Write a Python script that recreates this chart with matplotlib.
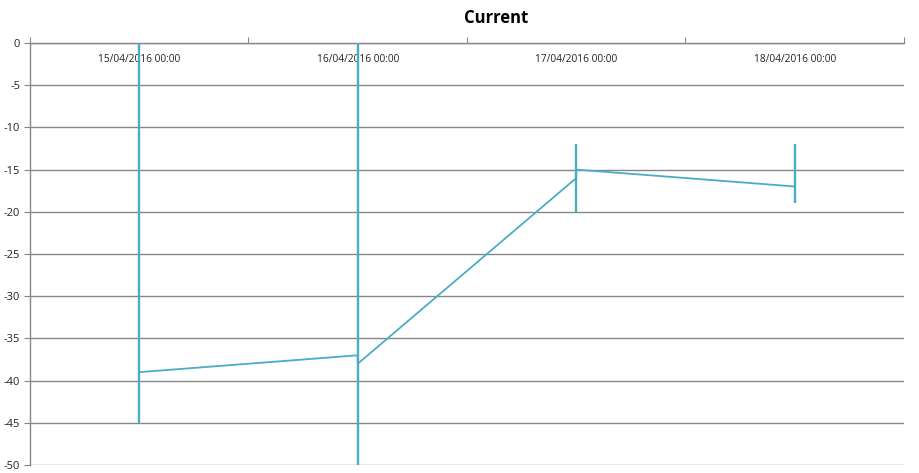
import numpy as np
import matplotlib.pyplot as plt
from matplotlib.ticker import FixedLocator, FixedFormatter

plt.rcParams['font.family'] = ['Open Sans', 'DejaVu Sans']
plt.rcParams['axes.unicode_minus'] = False

dates = ["15/04/2016 00:00", "16/04/2016 00:00", "17/04/2016 00:00", "18/04/2016 00:00"]
value_in = [-39, -37, -16, -17]    # value where the line arrives
value_out = [-39, -38, -15, -17]   # value where the line leaves
bar_low = [-45, -50, -20, -19]
bar_high = [0, 0, -12, -12]

color = "#4BACC6"
grey = "#868686"

fig = plt.figure(figsize=(9.2, 4.73), dpi=100)
ax = fig.add_axes([30 / 920, 8 / 473, 874 / 920, 422 / 473])

x = np.arange(len(dates))
xs = np.repeat(x, 2)
ys = np.column_stack([value_in, value_out]).ravel()
ax.plot(xs, ys, color=color, lw=1.3, zorder=3, solid_joinstyle="miter")
ax.vlines(x, bar_low, bar_high, color=color, lw=1.7, zorder=3)

ax.set_xlim(-0.5, len(dates) - 0.5)
ax.set_ylim(-50, 0)
ax.set_yticks(np.arange(-50, 1, 5))
ax.yaxis.grid(True, color=grey, lw=1)
ax.set_axisbelow(True)

ax.xaxis.tick_top()
ax.xaxis.set_major_locator(FixedLocator(np.arange(-0.5, len(dates), 1)))
ax.xaxis.set_major_formatter(FixedFormatter([""] * (len(dates) + 1)))
ax.xaxis.set_minor_locator(FixedLocator(x))
ax.xaxis.set_minor_formatter(FixedFormatter(dates))
ax.tick_params(axis="x", which="major", length=4, color=grey, direction="out")
ax.tick_params(axis="x", which="minor", length=0, pad=-16, labelsize=7.3, labelcolor="#222222")
ax.tick_params(axis="y", length=4, color=grey, labelsize=8, labelcolor="#222222", pad=3)

for s in ["right", "bottom"]:
    ax.spines[s].set_visible(False)
for s in ["left", "top"]:
    ax.spines[s].set_color(grey)
    ax.spines[s].set_linewidth(1)

fig.text(496 / 920, 1 - 18 / 473, "Current", ha="center", va="center", fontsize=12, fontweight="bold")

fig.savefig("out.png", dpi=100)
